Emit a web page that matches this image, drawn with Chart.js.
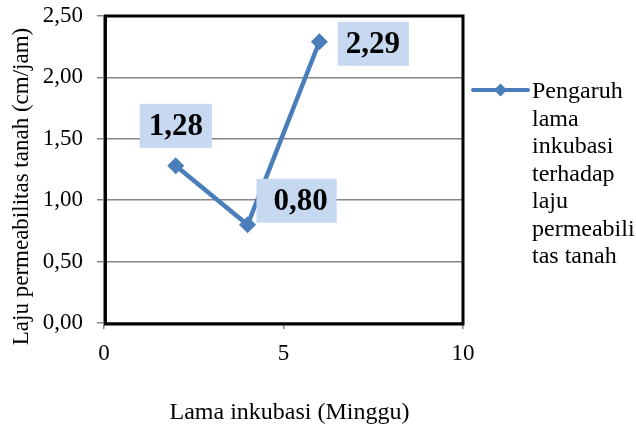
<!DOCTYPE html>
<html>
<head>
<meta charset="utf-8">
<script src="https://cdn.jsdelivr.net/npm/chart.js@4.4.1/dist/chart.umd.min.js"></script>
<style>
  html, body { margin: 0; padding: 0; background: #ffffff; }
  #wrap { width: 636px; height: 429px; }
</style>
</head>
<body>
<div id="wrap"><canvas id="c" width="636" height="429"></canvas></div>
<script>
// Weeks of incubation and measured soil permeability (cm/jam)
const weeks = [2, 4, 6];
const permeability = [1.28, 0.80, 2.29];
const xRange = [0, 10];
const xStep = 5;
const yRange = [0, 2.5];
const yStep = 0.5;
const seriesLabel = 'Pengaruh lama inkubasi terhadap laju permeabilitas tanah';
const xTitle = 'Lama inkubasi (Minggu)';
const yTitle = 'Laju permeabilitas tanah (cm/jam)';

const SERIF = "'Liberation Serif', 'Times New Roman', Times, serif";
const BLUE = '#4A7EBB';
const fmt = v => v.toFixed(2).replace('.', ',');

// Thick black frame around the plotting area
const frame = {
  id: 'frame',
  beforeDatasetsDraw(chart) {
    const { ctx, chartArea: a } = chart;
    ctx.save();
    ctx.strokeStyle = '#000000';
    ctx.lineWidth = 3;
    ctx.strokeRect(a.left + 1.5, a.top, a.right - a.left - 1.5, a.bottom - a.top + 1);
    ctx.restore();
  }
};

// Value labels in light blue boxes
const valueBoxes = {
  id: 'valueBoxes',
  afterDatasetsDraw(chart, args, opts) {
    const { ctx } = chart;
    const meta = chart.getDatasetMeta(0);
    ctx.save();
    ctx.font = 'bold 31px ' + SERIF;
    ctx.textBaseline = 'middle';
    ctx.textAlign = 'left';
    meta.data.forEach((pt, i) => {
      const text = fmt(chart.data.datasets[0].data[i].y);
      const p = opts.place[i];
      const w = ctx.measureText(text).width;
      const bw = w + p.padL + 9;
      const bh = 44;
      const cx = pt.x + p.dx, cy = pt.y + p.dy;
      const left = cx - bw / 2;
      ctx.fillStyle = '#C6D9F1';
      ctx.fillRect(left, cy - bh / 2, bw, bh);
      ctx.fillStyle = '#000000';
      ctx.fillText(text, left + p.padL, cy + 1);
    });
    ctx.restore();
  }
};

// Rotated y-axis title and x-axis title
const titles = {
  id: 'titles',
  afterDraw(chart) {
    const { ctx, chartArea: a } = chart;
    ctx.save();
    ctx.fillStyle = '#000000';
    ctx.font = '23px ' + SERIF;
    ctx.textAlign = 'center';
    ctx.textBaseline = 'middle';
    ctx.translate(22, (a.top + a.bottom) / 2 + 17);
    ctx.rotate(-Math.PI / 2);
    ctx.fillText(yTitle, 0, 0);
    ctx.restore();

    ctx.save();
    ctx.fillStyle = '#000000';
    ctx.font = '24px ' + SERIF;
    ctx.textAlign = 'center';
    ctx.textBaseline = 'middle';
    ctx.fillText(xTitle, (a.left + a.right) / 2 + 6, 413);
    ctx.restore();
  }
};

// Legend on the right with wrapped series name
const sideLegend = {
  id: 'sideLegend',
  afterDraw(chart) {
    const { ctx, chartArea: a } = chart;
    const x0 = a.right + 10, x1 = a.right + 65, y = 90;
    ctx.save();
    ctx.strokeStyle = BLUE;
    ctx.lineWidth = 4;
    ctx.lineCap = 'round';
    ctx.beginPath();
    ctx.moveTo(x0, y);
    ctx.lineTo(x1, y);
    ctx.stroke();
    const mx = (x0 + x1) / 2, r = 6.5;
    ctx.fillStyle = BLUE;
    ctx.beginPath();
    ctx.moveTo(mx, y - r); ctx.lineTo(mx + r, y); ctx.lineTo(mx, y + r); ctx.lineTo(mx - r, y);
    ctx.closePath();
    ctx.fill();

    ctx.font = '24px ' + SERIF;
    ctx.fillStyle = '#000000';
    ctx.textBaseline = 'alphabetic';
    ctx.textAlign = 'left';
    const tx = x1 + 4;
    const maxW = chart.width - tx;
    const lines = [];
    let cur = '';
    seriesLabel.split(' ').forEach(word => {
      const tryLine = cur ? cur + ' ' + word : word;
      if (ctx.measureText(tryLine).width <= maxW) { cur = tryLine; return; }
      if (cur) lines.push(cur);
      cur = '';
      let rest = word;
      while (ctx.measureText(rest).width > maxW) {
        let n = rest.length;
        while (n > 1 && ctx.measureText(rest.slice(0, n)).width > maxW) n--;
        lines.push(rest.slice(0, n));
        rest = rest.slice(n);
      }
      cur = rest;
    });
    if (cur) lines.push(cur);
    lines.forEach((ln, i) => ctx.fillText(ln, tx, 98 + i * 27.5));
    ctx.restore();
  }
};

const tickFont = { family: SERIF, size: 23 };

new Chart(document.getElementById('c'), {
  type: 'scatter',
  data: {
    datasets: [{
      label: seriesLabel,
      data: weeks.map((w, i) => ({ x: w, y: permeability[i] })),
      showLine: true,
      borderColor: BLUE,
      backgroundColor: BLUE,
      borderWidth: 4.5,
      pointStyle: 'rectRot',
      pointRadius: 8.5,
      pointHoverRadius: 8.5,
      pointBorderWidth: 0,
      pointBackgroundColor: BLUE,
      tension: 0
    }]
  },
  options: {
    responsive: false,
    animation: false,
    events: [],
    layout: { padding: { top: 16, right: 173, left: 28.7, bottom: 0 } },
    plugins: {
      legend: { display: false },
      tooltip: { enabled: false },
      valueBoxes: {
        place: [
          { dx: 0, dy: -40, padL: 9 },
          { dx: 49, dy: -24, padL: 17 },
          { dx: 54, dy: 2, padL: 8 }
        ]
      }
    },
    scales: {
      x: {
        type: 'linear',
        min: xRange[0], max: xRange[1],
        afterFit: s => { s.height = 106; s.paddingLeft = 0; s.paddingRight = 0; },
        grid: { drawOnChartArea: false, drawTicks: true, tickLength: 6, color: '#868686', lineWidth: 1.5 },
        border: { display: true, color: '#868686', width: 1.5 },
        ticks: {
          stepSize: xStep,
          color: '#000000',
          padding: 11,
          font: tickFont,
          callback: v => String(v)
        }
      },
      y: {
        type: 'linear',
        min: yRange[0], max: yRange[1],
        afterFit: s => { s.paddingTop = 0; s.paddingBottom = 0; },
        grid: { drawOnChartArea: true, drawTicks: true, tickLength: 7, color: '#868686', lineWidth: 1.5 },
        border: { display: true, color: '#868686', width: 1.5 },
        ticks: {
          stepSize: yStep,
          color: '#000000',
          padding: 14,
          font: tickFont,
          callback: v => fmt(v)
        }
      }
    }
  },
  plugins: [frame, valueBoxes, titles, sideLegend]
});
</script>
</body>
</html>
